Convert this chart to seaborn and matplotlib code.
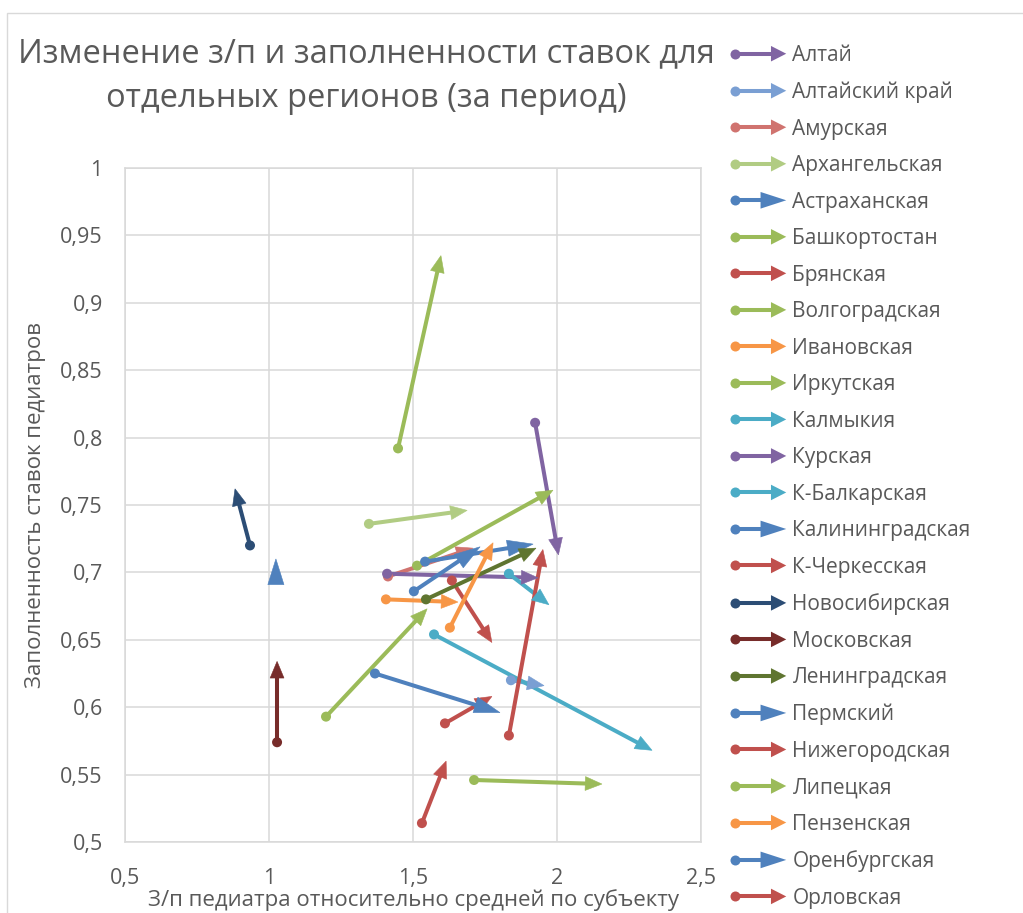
import matplotlib
matplotlib.use("Agg")
import matplotlib.pyplot as plt
from matplotlib.lines import Line2D
from matplotlib.patches import Polygon, Rectangle
from matplotlib.legend_handler import HandlerBase
from matplotlib.ticker import FixedLocator, FuncFormatter
from matplotlib.transforms import Affine2D, ScaledTranslation
import numpy as np
import seaborn as sns
import pandas as pd

# ---------------- data ----------------
regions = ["Алтай", "Алтайский край", "Амурская", "Архангельская", "Астраханская",
           "Башкортостан", "Брянская", "Волгоградская", "Ивановская", "Иркутская",
           "Калмыкия", "Курская", "К-Балкарская", "Калининградская", "К-Черкесская",
           "Новосибирская", "Московская", "Ленинградская", "Пермский", "Нижегородская",
           "Липецкая", "Пензенская", "Оренбургская", "Орловская"]
x_start = [1.924, 1.840, 1.413, 1.347, 1.024, 1.448, 1.635, 1.514, 1.406, 1.198,
           1.573, 1.410, 1.833, 1.542, 1.833, 0.934, 1.028, 1.545, 1.503, 1.611,
           1.712, 1.628, 1.368, 1.531]
y_start = [0.811, 0.620, 0.697, 0.736, 0.697, 0.792, 0.694, 0.705, 0.680, 0.593,
           0.654, 0.699, 0.699, 0.708, 0.579, 0.720, 0.574, 0.680, 0.686, 0.588,
           0.546, 0.659, 0.625, 0.514]
x_end = [2.005, 1.955, 1.708, 1.688, 1.024, 1.597, 1.774, 1.986, 1.656, 1.549,
         2.330, 1.934, 1.972, 1.917, 1.951, 0.882, 1.028, 1.927, 1.733, 1.774,
         2.156, 1.778, 1.802, 1.615]
y_end = [0.713, 0.616, 0.718, 0.746, 0.710, 0.935, 0.648, 0.761, 0.678, 0.673,
         0.568, 0.696, 0.676, 0.721, 0.717, 0.762, 0.634, 0.718, 0.719, 0.608,
         0.543, 0.722, 0.596, 0.560]
x_ticks = [0.5, 1.0, 1.5, 2.0, 2.5]
y_ticks = [0.5, 0.55, 0.6, 0.65, 0.7, 0.75, 0.8, 0.85, 0.9, 0.95, 1.0]
title = "Изменение з/п и заполненности ставок для\nотдельных регионов (за период)"
x_label = "З/п педиатра относительно средней по субъекту"
y_label = "Заполненность ставок педиатров"

# ---------------- style ----------------
colors = ["#8064A2", "#7A9FD3", "#D0736F", "#B1CC83", "#4F81BD",
          "#9BBB59", "#C0504D", "#9BBB59", "#F79646", "#9BBB59",
          "#4BACC6", "#8064A2", "#4BACC6", "#4F81BD", "#C0504D",
          "#2C4D75", "#772C2A", "#5F7530", "#4F81BD", "#C0504D",
          "#9BBB59", "#F79646", "#4F81BD", "#C0504D"]
big_head = {"Астраханская", "Калининградская", "Пермский", "Оренбургская"}
palette = dict(zip(regions, colors))
TXT = "#595959"
GRID = "#D9D9D9"
LW = 2.9
HEAD_N = (12.0, 5.0)    # length, half-width in points
HEAD_B = (18.5, 5.8)

sns.set_theme(style="white")
plt.rcParams["font.family"] = ["Open Sans", "DejaVu Sans"]

fig = plt.figure(figsize=(10.23, 9.13), dpi=100)
ax = fig.add_axes([125 / 1023, 1 - 842 / 913, 576 / 1023, 674 / 913])
ax.set_xlim(0.5, 2.5)
ax.set_ylim(0.5, 1.0)

pt = fig.dpi / 72.0
rows = []
heads = []
for r, xs, ys, xe, ye in zip(regions, x_start, y_start, x_end, y_end):
    L, W = HEAD_B if r in big_head else HEAD_N
    p0 = ax.transData.transform((xs, ys))
    p1 = ax.transData.transform((xe, ye))
    d = p1 - p0
    seg = np.hypot(*d)
    u = d / seg
    n = np.array([-u[1], u[0]])
    back = min(0.5 * L * pt, seg)
    xb, yb = ax.transData.inverted().transform(p1 - u * back)
    rows.append({"region": r, "stage": 0, "x": xs, "y": ys})
    rows.append({"region": r, "stage": 1, "x": xb, "y": yb})
    verts = [(0.0, 0.0), tuple(-L * u + W * n), tuple(-L * u - W * n)]
    heads.append((r, xe, ye, verts))
df = pd.DataFrame(rows)

sns.lineplot(data=df, x="x", y="y", hue="region", units="region", estimator=None,
             sort=False, palette=palette, lw=LW, legend=False, ax=ax,
             solid_capstyle="butt")
sns.scatterplot(data=df[df.stage == 0], x="x", y="y", hue="region", palette=palette,
                s=52, linewidth=0, legend=False, ax=ax, zorder=3)

for r, xe, ye, verts in heads:
    tr = Affine2D().scale(pt) + ScaledTranslation(xe, ye, ax.transData)
    ax.add_patch(Polygon(verts, closed=True, transform=tr, fc=palette[r],
                         ec=palette[r], lw=0.4, zorder=4))

ax.xaxis.set_major_locator(FixedLocator(x_ticks))
ax.yaxis.set_major_locator(FixedLocator(y_ticks))
fmt = FuncFormatter(lambda v, p: (f"{v:.2f}".rstrip("0").rstrip(".")).replace(".", ","))
ax.xaxis.set_major_formatter(fmt)
ax.yaxis.set_major_formatter(fmt)
ax.grid(True, color=GRID, lw=1.1)
ax.set_axisbelow(True)
for s in ax.spines.values():
    s.set_color(GRID)
    s.set_linewidth(1.1)
ax.tick_params(axis="both", length=0, labelsize=15.5, colors=TXT)
ax.tick_params(axis="y", pad=16)
ax.tick_params(axis="x", pad=19)

ax.set_xlabel(x_label, fontsize=16, color=TXT)
ax.set_ylabel(y_label, fontsize=16, color=TXT)
ax.xaxis.label.set_va("center")
ax.yaxis.label.set_va("center")
ax.xaxis.set_label_coords(0.5, -(900 - 842) / 674)
ax.yaxis.set_label_coords((36 - 125) / 576, 0.5)

fig.text(366 / 1023, 1 - 76 / 913, title, ha="center", va="center", fontsize=23.5,
         color=TXT, linespacing=1.45)

fig.add_artist(Rectangle((7 / 1023, -0.05), 1.2, 1 - 13 / 913 + 0.05,
                         transform=fig.transFigure, fill=False, ec=GRID, lw=1.0))


class ArrowHandler(HandlerBase):
    def create_artists(self, legend, orig_handle, xdescent, ydescent, width, height,
                       fontsize, trans):
        c = orig_handle.get_color()
        big = orig_handle.get_gid() == "big"
        y0 = height / 2 - ydescent
        x0 = -xdescent + 3.6
        x1 = width - xdescent
        hl, hw = (18.5, 6.0) if big else (11.0, 5.6)
        line = Line2D([x0, x1 - hl * 0.5], [y0, y0], color=c, lw=LW, solid_capstyle="butt")
        dot = Line2D([x0], [y0], marker="o", ms=7.2, mew=0, color=c, ls="none")
        head = Polygon([[x1 - hl, y0 - hw], [x1, y0], [x1 - hl, y0 + hw]], closed=True,
                       fc=c, ec="none")
        for a in (line, dot, head):
            a.set_transform(trans)
        return [line, dot, head]


handles = [Line2D([], [], color=palette[r], gid=("big" if r in big_head else "n"))
           for r in regions]
leg = fig.legend(handles, regions, handler_map={Line2D: ArrowHandler()},
                 loc="upper left", bbox_to_anchor=(730 / 1023, 1 - 45 / 913),
                 frameon=False, fontsize=15, handlelength=2.7, handleheight=0.7,
                 handletextpad=0.3, labelspacing=0.745, borderpad=0, borderaxespad=0)
for t in leg.get_texts():
    t.set_color(TXT)

fig.savefig("out.png", dpi=100)
